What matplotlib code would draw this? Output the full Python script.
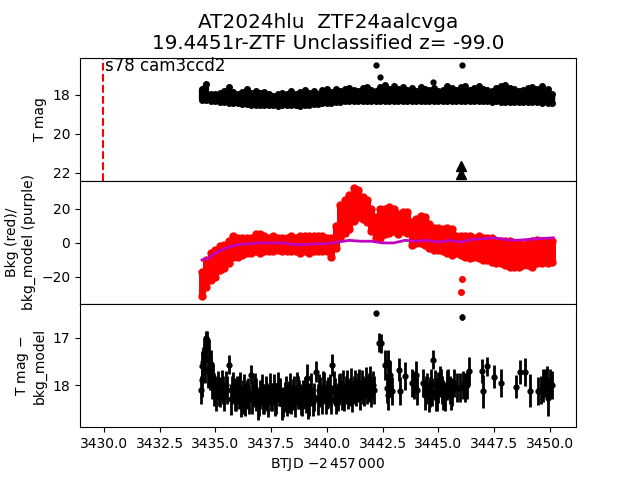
#!/usr/bin/env python3
# -*- coding: utf-8 -*-
import matplotlib
matplotlib.use("Agg")
import matplotlib.pyplot as plt
import numpy as np

# sector start marker
sector_start = 3429.95

# time grid of the dense cadence
btjd = [3434.4, 3434.6, 3434.8, 3435.0, 3435.2, 3435.4, 3435.6, 3435.8, 3436.0, 3436.2,
        3436.4, 3436.6, 3436.8, 3437.0, 3437.2, 3437.4, 3437.6, 3437.8, 3438.0, 3438.2,
        3438.4, 3438.6, 3438.8, 3439.0, 3439.2, 3439.4, 3439.6, 3439.8, 3440.0, 3440.2,
        3440.4, 3440.6, 3440.8, 3441.0, 3441.2, 3441.4, 3441.6, 3441.8, 3442.0, 3442.2,
        3442.4, 3442.6, 3442.8, 3443.0, 3443.2, 3443.4, 3443.6, 3443.8, 3444.0, 3444.2,
        3444.4, 3444.6, 3444.8, 3445.0, 3445.2, 3445.4, 3445.6, 3445.8, 3446.0, 3446.2,
        3446.4, 3446.6, 3446.8, 3447.0, 3447.2, 3447.4, 3447.6, 3447.8, 3448.0, 3448.2,
        3448.4, 3448.6, 3448.8, 3449.0, 3449.2, 3449.4, 3449.65, 3449.9, 3450.1]

# top panel, bright and faint edge of the T mag band
tmag_bright = [17.7, 17.45, 17.95, 17.95, 17.9, 17.8, 17.6, 17.85, 17.95, 17.85,
               17.7, 17.9, 17.8, 17.9, 17.85, 17.95, 18.05, 17.95, 17.9, 17.95,
               17.8, 17.95, 17.85, 17.75, 17.9, 17.8, 17.95, 17.75, 17.7, 17.85,
               17.7, 17.8, 17.7, 17.65, 17.75, 17.8, 17.65, 17.6, 17.75, 17.8,
               17.6, 17.5, 17.7, 17.55, 17.7, 17.6, 17.75, 17.65, 17.8, 17.6,
               17.7, 17.75, 17.65, 17.8, 17.75, 17.55, 17.65, 17.75, 17.6, 17.55,
               17.75, 17.65, 17.55, 17.7, 17.75, 17.8, 17.65, 17.55, 17.5, 17.65,
               17.7, 17.8, 17.75, 17.65, 17.6, 17.7, 17.55, 17.7, 17.95]
tmag_faint = [18.25, 18.28, 18.3, 18.32, 18.35, 18.38, 18.4, 18.42, 18.45, 18.48,
              18.5, 18.52, 18.53, 18.55, 18.55, 18.55, 18.55, 18.56, 18.55, 18.54,
              18.55, 18.55, 18.56, 18.55, 18.52, 18.5, 18.48, 18.45, 18.42, 18.4,
              18.37, 18.35, 18.34, 18.33, 18.32, 18.32, 18.32, 18.33, 18.32, 18.32,
              18.33, 18.32, 18.32, 18.33, 18.32, 18.32, 18.32, 18.33, 18.32, 18.33,
              18.34, 18.33, 18.32, 18.33, 18.32, 18.33, 18.34, 18.32, 18.33, 18.34,
              18.32, 18.33, 18.34, 18.33, 18.34, 18.35, 18.34, 18.35, 18.36, 18.35,
              18.36, 18.36, 18.37, 18.37, 18.38, 18.38, 18.4, 18.4, 18.42]

# isolated detections and upper limits on the top panel
outlier_t = [3442.2, 3442.38, 3444.75, 3446.05]
outlier_mag = [16.46, 17.08, 17.35, 16.5]
limit_t = [3446.0, 3446.0]
limit_mag = [21.65, 22.05]

# middle panel, band edges of the measured background
bkg_top = [-17, -10, -6, -4, -2, -1, 1, 4, 3, 3,
           3, 3, 5, 5, 4, 3, 4, 3, 3, 3,
           4, 3, 4, 4, 4, 4, 4, 4, 3, 3,
           10, 22, 25, 28, 32, 31, 27, 25, 20, 15,
           20, 20, 21, 20, 17, 18, 18, 12, 14, 16,
           15, 11, 9, 9, 8, 9, 8, 4, 4, 4,
           4, 3, 4, 3, 3, 3, 1, 1, 1, 1,
           0, 0, -1, 0, 1, 2, 1, 1, 1]
bkg_bottom = [-31, -26, -22, -20, -16, -15, -12, -8, -8, -7,
              -6, -6, -5, -6, -5, -5, -5, -4, -5, -5,
              -5, -5, -6, -5, -6, -5, -5, -5, -5, -8,
              -3, 3, 6, 8, 13, 15, 14, 12, 7, 3,
              3, 5, 6, 7, 5, 7, 6, -1, 0, 0,
              -1, -3, -4, -4, -5, -6, -7, -6, -7, -8,
              -9, -8, -9, -10, -10, -11, -12, -12, -13, -14,
              -14, -14, -13, -13, -14, -12, -12, -12, -11]
bkg_outlier_t = [3446.05, 3446.0]
bkg_outlier = [-21, -29]

# background model
model_t = [3434.4, 3434.7, 3435.0, 3435.3, 3435.6, 3436.0, 3436.5, 3437.0, 3437.5, 3438.0,
           3438.5, 3439.0, 3439.5, 3440.0, 3440.5, 3441.0, 3441.5, 3442.0, 3442.5, 3443.0,
           3443.5, 3444.0, 3444.5, 3445.0, 3445.5, 3446.0, 3446.5, 3447.0, 3447.5, 3448.0,
           3448.5, 3449.0, 3449.5, 3450.15]
model_bkg = [-10, -9, -6, -4, -2.5, -1, -0.5, 0, 0, 0,
             -1, -1, -0.5, -0.5, 0.5, 1.5, 1, 1, 0, 0,
             1.5, 1, 1.5, 0.5, 1.5, 0.5, 2, 2.5, 3, 2,
             1.5, 2, 2.5, 3]

# bottom panel, T mag minus bkg_model
diff_t = [3434.35, 3434.42, 3434.5, 3434.56, 3434.62, 3434.7, 3434.8, 3434.9, 3435.0, 3435.1,
          3435.22, 3435.34, 3435.46, 3435.62, 3435.74, 3435.86, 3435.98, 3436.1, 3436.22, 3436.34,
          3436.46, 3436.6, 3436.72, 3436.84, 3436.96, 3437.08, 3437.2, 3437.32, 3437.44, 3437.56,
          3437.68, 3437.8, 3437.92, 3438.04, 3438.16, 3438.28, 3438.4, 3438.52, 3438.64, 3438.76,
          3438.88, 3439.0, 3439.09, 3439.22, 3439.36, 3439.51, 3439.64, 3439.76, 3439.88, 3440.0,
          3440.12, 3440.24, 3440.36, 3440.48, 3440.6, 3440.72, 3440.84, 3440.96, 3441.08, 3441.2,
          3441.32, 3441.44, 3441.56, 3441.68, 3441.8, 3441.95, 3442.05, 3442.2, 3442.35,
          3442.42, 3442.6, 3442.68, 3442.75, 3442.83, 3442.9, 3443.25, 3443.28, 3443.5, 3443.8,
          3443.9, 3444.0, 3444.05, 3444.3, 3444.4, 3444.5, 3444.58, 3444.66, 3444.72, 3444.77,
          3444.86, 3444.95, 3445.05, 3445.15, 3445.2, 3445.4, 3445.5, 3445.6, 3445.72, 3445.85,
          3445.95, 3446.05, 3446.12, 3446.2, 3446.3, 3446.36, 3446.95, 3446.98, 3447.2, 3447.5,
          3447.8, 3448.5, 3448.65, 3448.9, 3449.1, 3449.45, 3449.6, 3449.7, 3449.78, 3449.85,
          3449.92, 3450.0, 3450.08,
          3434.38, 3434.46, 3434.53, 3434.6, 3434.67, 3434.75, 3434.85, 3434.95, 3435.05, 3435.16,
          3435.28, 3435.4, 3435.54, 3435.68, 3435.8, 3435.92, 3436.04, 3436.16, 3436.28, 3436.4,
          3436.52, 3436.66, 3436.78, 3436.9, 3437.02, 3437.14, 3437.26, 3437.38, 3437.5, 3437.62,
          3437.74, 3437.86, 3437.98, 3438.1, 3438.22, 3438.34, 3438.46, 3438.58, 3438.7, 3438.82,
          3438.94, 3439.05, 3439.16, 3439.29, 3439.43, 3439.58, 3439.7, 3439.82, 3439.94, 3440.06,
          3440.18, 3440.3, 3440.42, 3440.54, 3440.66, 3440.78, 3440.9, 3441.02, 3441.14, 3441.26,
          3441.38, 3441.5, 3441.62, 3441.74, 3441.88, 3442.0, 3442.12,
          3442.72, 3442.8, 3444.45, 3444.62, 3444.9, 3445.0, 3445.1, 3445.3, 3445.45, 3445.55]
diff_mag = [18.1, 17.6, 17.3, 17.0, 17.05, 17.4, 17.55, 17.85, 18.1, 18.0,
            18.15, 18.1, 18.0, 17.57, 18.1, 18.2, 18.1, 18.05, 18.25, 18.3,
            18.15, 17.78, 18.15, 18.2, 18.35, 18.1, 18.3, 18.25, 18.05, 18.25,
            18.3, 18.0, 18.15, 18.35, 18.1, 18.25, 18.3, 18.1, 18.05, 18.2,
            18.35, 18.15, 17.85, 18.3, 18.35, 17.71, 18.1, 18.3, 18.05, 18.2,
            18.1, 17.57, 18.15, 18.25, 18.05, 18.0, 18.1, 18.2, 17.95, 18.1,
            18.15, 17.95, 18.0, 18.15, 18.1, 17.9, 18.0, 16.48, 17.1,
            17.11, 17.57, 18.06, 17.5, 17.78, 18.13, 17.67, 18.13, 17.81, 17.96,
            18.0, 17.78, 18.11, 17.96, 18.2, 18.05, 18.25, 17.95, 18.15, 17.46,
            18.0, 18.2, 17.9, 18.1, 18.2, 18.0, 18.1, 18.15, 17.95, 18.05,
            18.05, 16.55, 18.0, 18.05, 18.0, 17.7, 17.7, 18.13, 17.6, 17.82,
            17.95, 18.03, 17.72, 17.72, 18.12, 18.12, 18.1, 18.0, 17.95, 17.9,
            18.27, 17.95, 18.0,
            17.9, 17.5, 17.65, 17.25, 17.7, 17.75, 18.0, 18.1, 18.2, 18.15,
            18.0, 18.25, 18.1, 18.3, 18.05, 18.25, 18.15, 18.35, 18.1, 18.2,
            18.3, 18.25, 18.05, 18.4, 18.2, 18.3, 18.15, 18.35, 18.25, 18.1,
            18.3, 18.15, 18.4, 18.25, 18.3, 18.05, 18.2, 18.35, 18.15, 18.3,
            18.2, 18.25, 18.4, 18.1, 18.25, 18.3, 18.15, 18.05, 18.3, 18.15,
            18.3, 18.05, 18.3, 18.1, 18.2, 18.25, 18.0, 18.15, 18.25, 18.0,
            18.05, 18.2, 18.1, 17.95, 18.05, 18.15, 18.1,
            18.2, 17.95, 18.1, 18.15, 18.25, 18.05, 17.95, 18.25, 17.95, 18.2]
diff_err = [0.3, 0.3, 0.3, 0.15, 0.2, 0.35, 0.3, 0.3, 0.3, 0.3,
            0.32, 0.3, 0.3, 0.2, 0.3, 0.35, 0.3, 0.32, 0.35, 0.35,
            0.3, 0.2, 0.32, 0.35, 0.3, 0.33, 0.32, 0.3, 0.3, 0.3,
            0.35, 0.28, 0.3, 0.32, 0.3, 0.33, 0.3, 0.3, 0.33, 0.3,
            0.3, 0.33, 0.3, 0.35, 0.3, 0.22, 0.33, 0.3, 0.32, 0.3,
            0.33, 0.23, 0.3, 0.3, 0.3, 0.33, 0.3, 0.3, 0.32, 0.3,
            0.3, 0.3, 0.32, 0.3, 0.3, 0.3, 0.3, 0.05, 0.2,
            0.2, 0.32, 0.32, 0.25, 0.3, 0.3, 0.25, 0.3, 0.3, 0.3,
            0.3, 0.3, 0.32, 0.3, 0.32, 0.3, 0.32, 0.3, 0.3, 0.2,
            0.32, 0.35, 0.3, 0.3, 0.32, 0.32, 0.3, 0.3, 0.3, 0.3,
            0.3, 0.06, 0.3, 0.3, 0.3, 0.3, 0.25, 0.35, 0.2, 0.25,
            0.3, 0.25, 0.25, 0.3, 0.35, 0.3, 0.3, 0.35, 0.3, 0.3,
            0.38, 0.3, 0.3,
            0.35, 0.3, 0.3, 0.25, 0.35, 0.35, 0.3, 0.35, 0.35, 0.3,
            0.32, 0.3, 0.3, 0.33, 0.32, 0.3, 0.35, 0.32, 0.33, 0.3,
            0.32, 0.35, 0.3, 0.33, 0.3, 0.32, 0.35, 0.33, 0.3, 0.33,
            0.32, 0.3, 0.33, 0.32, 0.35, 0.3, 0.33, 0.32, 0.35, 0.33,
            0.3, 0.33, 0.32, 0.35, 0.3, 0.33, 0.32, 0.35, 0.3, 0.33,
            0.3, 0.35, 0.3, 0.33, 0.32, 0.3, 0.33, 0.3, 0.32, 0.33,
            0.3, 0.32, 0.3, 0.33, 0.3, 0.32, 0.3,
            0.32, 0.3, 0.3, 0.32, 0.3, 0.32, 0.3, 0.3, 0.3, 0.32]

t = np.array(btjd)
bright = np.array(tmag_bright)
faint = np.array(tmag_faint)

fig, (ax1, ax2, ax3) = plt.subplots(3, 1, sharex=True)
fig.subplots_adjust(hspace=0, top=0.88, bottom=0.11, left=0.125, right=0.9)

ax1.errorbar(t, (bright + faint) / 2, yerr=(faint - bright) / 2, fmt='.k',
             elinewidth=4.5, markersize=6)
ax1.plot(t, bright, '.k', markersize=8)
ax1.plot(t, faint, '.k', markersize=8)
ax1.plot(outlier_t, outlier_mag, '.k', markersize=7)
ax1.plot(limit_t, limit_mag, '^k', markersize=6.5)
ax1.axvline(sector_start, color='r', ls='--', lw=1.5)
ax1.text(sector_start + 0.1, 16.77, "s78 cam3ccd2", fontsize=12)
ax1.set_ylim(22.41, 16.1)
ax1.set_yticks([18, 20, 22])
ax1.set_ylabel("T mag")
ax1.set_title("AT2024hlu  ZTF24aalcvga\n19.4451r-ZTF Unclassified z= -99.0",
              fontsize=14.4, pad=6, linespacing=1.15)
ax1.tick_params(axis='x', bottom=False)

ax2.vlines(t, bkg_bottom, bkg_top, color='r', lw=5)
ax2.plot(t, bkg_top, '.r', markersize=10)
ax2.plot(t, bkg_bottom, '.r', markersize=10)
ax2.plot(bkg_outlier_t, bkg_outlier, '.r', markersize=8)
ax2.plot(model_t, model_bkg, color='m', lw=2)
ax2.set_ylim(-35.9, 36.5)
ax2.set_yticks([-20, 0, 20])
ax2.set_ylabel("Bkg (red)/\nbkg_model (purple)")
ax2.tick_params(axis='x', bottom=False)

ax3.errorbar(diff_t, diff_mag, yerr=diff_err, fmt='.k', elinewidth=2, markersize=7)
ax3.set_ylim(18.89, 16.28)
ax3.set_yticks([17, 18])
ax3.set_ylabel("T mag $-$\nbkg_model")
ax3.set_xlim(3428.93, 3451.17)
ax3.set_xticks([3430, 3432.5, 3435, 3437.5, 3440, 3442.5, 3445, 3447.5, 3450])
ax3.set_xticklabels(["3430.0", "3432.5", "3435.0", "3437.5", "3440.0",
                     "3442.5", "3445.0", "3447.5", "3450.0"])
ax3.set_xlabel(r"BTJD $-2\,457\,000$")

plt.savefig("out.png", dpi=100)
